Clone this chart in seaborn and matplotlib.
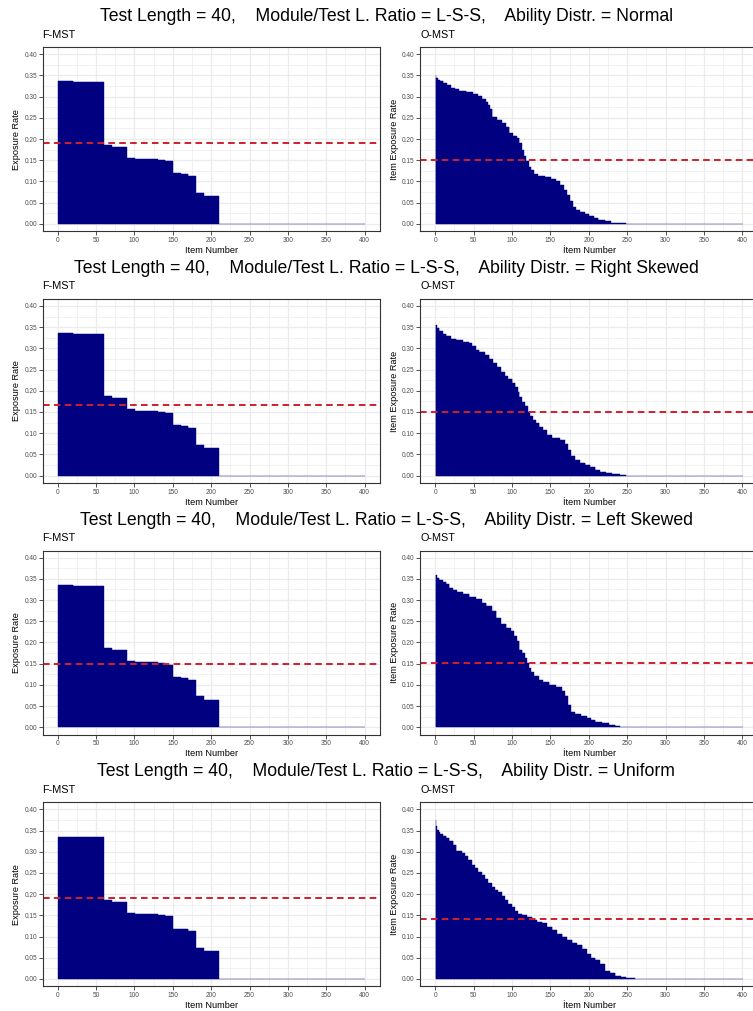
import numpy as np
import matplotlib
matplotlib.use("Agg")
import matplotlib.pyplot as plt
from matplotlib.ticker import MultipleLocator, FormatStrFormatter
import seaborn as sns

# ---- data ----
distributions = ["Normal", "Right Skewed", "Left Skewed", "Uniform"]

# F-MST: run-length steps, same for every ability distribution
fmst_rates = [0.336, 0.334, 0.187, 0.182, 0.156, 0.153, 0.151, 0.148, 0.119, 0.117, 0.112, 0.073, 0.065, 0.0]
fmst_counts = [20, 40, 10, 20, 10, 30, 10, 10, 10, 10, 10, 10, 20, 190]

# O-MST: sorted item exposure rates as run-length steps
omst_normal_rates = [0.352, 0.345, 0.340, 0.336, 0.332, 0.327, 0.321, 0.317, 0.314, 0.310,
                     0.307, 0.302, 0.295, 0.288, 0.280, 0.270, 0.252, 0.246, 0.238, 0.228,
                     0.215, 0.208, 0.202, 0.190, 0.175, 0.160, 0.148, 0.135, 0.126, 0.118,
                     0.114, 0.110, 0.106, 0.100, 0.092, 0.080, 0.068, 0.054, 0.040, 0.033,
                     0.029, 0.024, 0.018, 0.013, 0.009, 0.006, 0.003, 0.001, 0.0]
omst_normal_counts = [1, 2, 3, 4, 5, 5, 5, 5, 10, 8, 7, 5, 5, 3, 3, 3, 6, 6, 5, 5,
                      5, 5, 3, 3, 3, 3, 3, 3, 4, 5, 9, 8, 7, 5, 5, 4, 4, 4, 4, 5,
                      6, 6, 6, 6, 8, 8, 10, 10, 152]

omst_right_rates = [0.356, 0.348, 0.340, 0.335, 0.329, 0.323, 0.319, 0.315, 0.312, 0.305,
                    0.297, 0.291, 0.285, 0.275, 0.266, 0.255, 0.244, 0.235, 0.227, 0.219,
                    0.210, 0.198, 0.186, 0.174, 0.163, 0.151, 0.140, 0.131, 0.123, 0.115,
                    0.107, 0.096, 0.089, 0.083, 0.075, 0.060, 0.046, 0.036, 0.030, 0.025,
                    0.020, 0.013, 0.008, 0.005, 0.003, 0.0015, 0.0]
omst_right_counts = [2, 3, 4, 5, 6, 7, 8, 8, 4, 5, 5, 7, 6, 5, 5, 5, 5, 4, 6, 4,
                     3, 2, 3, 4, 4, 3, 4, 4, 4, 5, 5, 6, 11, 6, 4, 4, 5, 7, 7, 6,
                     7, 6, 8, 8, 10, 8, 152]

omst_left_rates = [0.359, 0.353, 0.347, 0.343, 0.337, 0.329, 0.323, 0.318, 0.314, 0.307,
                   0.302, 0.294, 0.286, 0.274, 0.258, 0.244, 0.235, 0.227, 0.215, 0.203,
                   0.183, 0.175, 0.164, 0.152, 0.140, 0.130, 0.122, 0.112, 0.106, 0.100,
                   0.094, 0.085, 0.073, 0.053, 0.037, 0.031, 0.027, 0.023, 0.017, 0.012,
                   0.009, 0.0055, 0.003, 0.0]
omst_left_counts = [2, 3, 4, 5, 4, 4, 6, 7, 9, 8, 8, 6, 7, 6, 6, 7, 6, 4, 4, 3,
                    4, 3, 3, 2, 3, 4, 6, 6, 8, 9, 7, 4, 4, 4, 5, 8, 8, 5, 6, 9,
                    9, 8, 6, 160]

omst_uniform_rates = [0.376, 0.362, 0.352, 0.346, 0.341, 0.337, 0.333, 0.325, 0.317, 0.301,
                      0.297, 0.289, 0.280, 0.269, 0.261, 0.253, 0.246, 0.235, 0.226, 0.218,
                      0.211, 0.204, 0.196, 0.186, 0.178, 0.170, 0.161, 0.154, 0.150, 0.147,
                      0.140, 0.135, 0.131, 0.123, 0.116, 0.107, 0.099, 0.091, 0.085, 0.079,
                      0.071, 0.059, 0.050, 0.044, 0.036, 0.020, 0.015, 0.008, 0.005, 0.002, 0.0]
omst_uniform_counts = [1, 1, 2, 2, 3, 5, 4, 5, 4, 7, 4, 4, 5, 4, 4, 5, 4, 4, 5, 4,
                       4, 5, 4, 4, 5, 4, 4, 5, 7, 7, 6, 7, 6, 7, 6, 7, 6, 7, 6, 7,
                       6, 5, 6, 6, 6, 7, 7, 7, 7, 12, 140]

# dashed reference lines
fmst_ref = [0.190, 0.167, 0.149, 0.190]
omst_ref = [0.150, 0.150, 0.152, 0.142]

omst_rates = [omst_normal_rates, omst_right_rates, omst_left_rates, omst_uniform_rates]
omst_counts = [omst_normal_counts, omst_right_counts, omst_left_counts, omst_uniform_counts]

items = np.arange(1, 401)

# ---- style ----
plt.rcParams['font.family'] = ['Liberation Sans', 'DejaVu Sans']
W, H = 753, 1011
fig = plt.figure(figsize=(W / 100, H / 100), dpi=100)
fig.patch.set_facecolor("white")

navy = "#000080"
red = "#D0202C"


def frac(left, top, width, height):
    return [left / W, 1 - (top + height) / H, width / W, height / H]


def style_axes(ax, ylabel, xlabel):
    ax.set_xlim(-19.5, 420.5)
    ax.set_ylim(-0.0175, 0.4165)
    ax.xaxis.set_major_locator(MultipleLocator(50))
    ax.xaxis.set_minor_locator(MultipleLocator(25))
    ax.yaxis.set_major_locator(MultipleLocator(0.05))
    ax.yaxis.set_minor_locator(MultipleLocator(0.025))
    ax.yaxis.set_major_formatter(FormatStrFormatter("%.2f"))
    ax.set_axisbelow(True)
    ax.grid(which="major", color="#EBEBEB", linewidth=0.9)
    ax.grid(which="minor", color="#EBEBEB", linewidth=0.45)
    ax.tick_params(which="major", length=2.6, width=0.6, color="#333333",
                   labelsize=4.7, labelcolor="#4D4D4D", pad=1.5)
    ax.tick_params(which="minor", length=0)
    for s in ax.spines.values():
        s.set_color("#333333")
        s.set_linewidth(0.8)
    ax.set_facecolor("white")
    ax.set_ylabel(ylabel, fontsize=6.6, labelpad=2.5)
    ax.set_xlabel(xlabel, fontsize=6.6, labelpad=1.5)


def draw_bars(ax, vals):
    sns.barplot(x=items, y=vals, native_scale=True, width=1, color=navy, saturation=1,
                errorbar=None, edgecolor=navy, linewidth=0.3, ax=ax)


row_step = 251.7
for i, dist in enumerate(distributions):
    top = 47.3 + row_step * i
    fig.text(386 / W, 1 - (16.7 + row_step * i) / H,
             f"Test Length = 40,    Module/Test L. Ratio = L-S-S,    Ability Distr. = {dist}",
             ha="center", va="center", fontsize=12.7)

    # F-MST panel
    ax = fig.add_axes(frac(42.6, top, 337.8, 184))
    draw_bars(ax, np.repeat(fmst_rates, fmst_counts))
    ax.axhline(fmst_ref[i], color=red, linewidth=1.4, linestyle=(0, (3.4, 2.2)))
    style_axes(ax, "Exposure Rate", "Item Number")
    fig.text(42.6 / W, 1 - (34.5 + row_step * i) / H, "F-MST", ha="left", va="center", fontsize=7.8)

    # O-MST panel (right edge runs past the figure, as in the reference)
    ax = fig.add_axes(frac(420.3, top, 337.8, 184))
    draw_bars(ax, np.repeat(omst_rates[i], omst_counts[i]))
    ax.axhline(omst_ref[i], color=red, linewidth=1.4, linestyle=(0, (3.4, 2.2)))
    style_axes(ax, "Item Exposure Rate", "\u0130tem Number")
    fig.text(420.3 / W, 1 - (34.5 + row_step * i) / H, "O-MST", ha="left", va="center", fontsize=7.8)

fig.savefig("out.png", dpi=100)
